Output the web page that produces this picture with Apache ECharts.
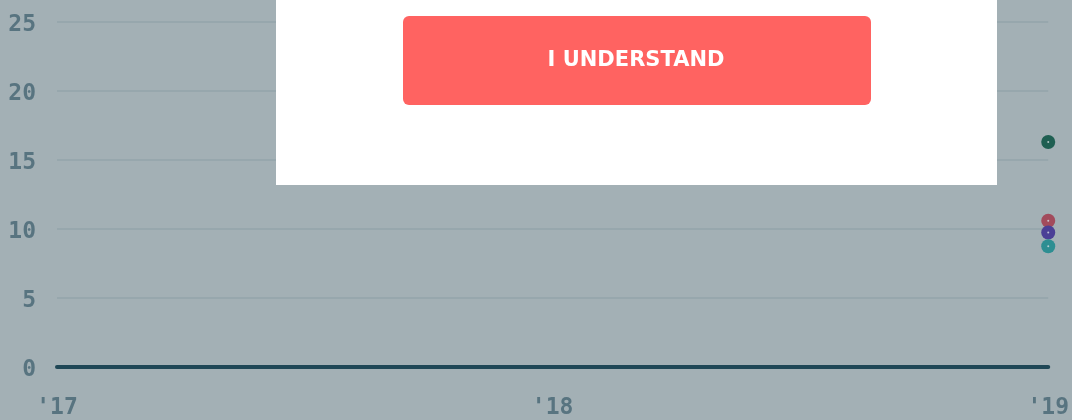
<!DOCTYPE html>
<html>
<head>
<meta charset="utf-8">
<script src="https://cdn.jsdelivr.net/npm/echarts@6/dist/echarts.min.js"></script>
<style>
html,body{margin:0;padding:0;background:#a3b0b5;}
#chart{width:1072px;height:420px;}
</style>
</head>
<body>
<div id="chart"></div>
<script>
// Data
const xYears = [2017, 2018, 2019];
const yTicks = [0, 5, 10, 15, 20, 25];
const seriesNames = ['Series A', 'Series B', 'Series C', 'Series D'];
const seriesColors = ['#1f5f52', '#a24b5c', '#4b3f96', '#2e8e92'];
const seriesA = [[2019, 16.3]];
const seriesB = [[2019, 10.6]];
const seriesC = [[2019, 9.75]];
const seriesD = [[2019, 8.75]];
const seriesData = [seriesA, seriesB, seriesC, seriesD];
const buttonLabel = 'I UNDERSTAND';

const chart = echarts.init(document.getElementById('chart'), null, {renderer: 'canvas'});
const labelColor = '#587480';
const monoFont = '"DejaVu Sans Mono", "Liberation Mono", monospace';

const lineSeries = seriesData.map((d, i) => ({
  name: seriesNames[i],
  type: 'line',
  data: d,
  symbol: 'circle',
  symbolSize: 14,
  showSymbol: true,
  lineStyle: {color: seriesColors[i], width: 3},
  itemStyle: {color: seriesColors[i]},
  z: 3
}));
const dotSeries = seriesData.map((d, i) => ({
  name: seriesNames[i] + ' dot',
  type: 'scatter',
  data: d,
  symbol: 'circle',
  symbolSize: 2,
  itemStyle: {color: '#d8dfe2'},
  silent: true,
  z: 4
}));

chart.setOption({
  backgroundColor: '#a3b0b5',
  animation: false,
  grid: {left: 57, right: 20, top: 22, bottom: 52, containLabel: false},
  xAxis: {
    type: 'value',
    min: xYears[0],
    max: xYears[xYears.length - 1],
    interval: 1,
    axisLine: {show: true, onZero: true, lineStyle: {color: '#1f4756', width: 4}},
    axisTick: {show: false},
    splitLine: {show: false},
    axisLabel: {
      color: labelColor, fontFamily: monoFont, fontWeight: 'bold', fontSize: 23,
      margin: 30,
      formatter: v => "'" + String(v).slice(2)
    }
  },
  yAxis: {
    type: 'value',
    min: yTicks[0],
    max: yTicks[yTicks.length - 1],
    interval: 5,
    axisLine: {show: false},
    axisTick: {show: false},
    splitLine: {show: true, lineStyle: {color: '#93a4ab', width: 1.5}},
    axisLabel: {
      margin: 21,
      formatter: v => '{a|' + v + '}',
      rich: {a: {color: labelColor, fontFamily: monoFont, fontWeight: 'bold', fontSize: 23, padding: [6, 0, 0, 0]}}
    }
  },
  series: lineSeries.concat(dotSeries),
  graphic: [
    {type: 'rect', x: 276, y: 0, shape: {width: 721, height: 185}, style: {fill: '#ffffff'}, z: 100},
    {type: 'rect', x: 403, y: 16, shape: {width: 468, height: 89, r: 6}, style: {fill: '#ff6361'}, z: 101},
    {type: 'text', x: 636, y: 61, z: 102,
      style: {text: buttonLabel, fill: '#ffffff', font: 'bold 21px "DejaVu Sans", sans-serif',
        align: 'center', verticalAlign: 'middle'}}
  ]
});
</script>
</body>
</html>
